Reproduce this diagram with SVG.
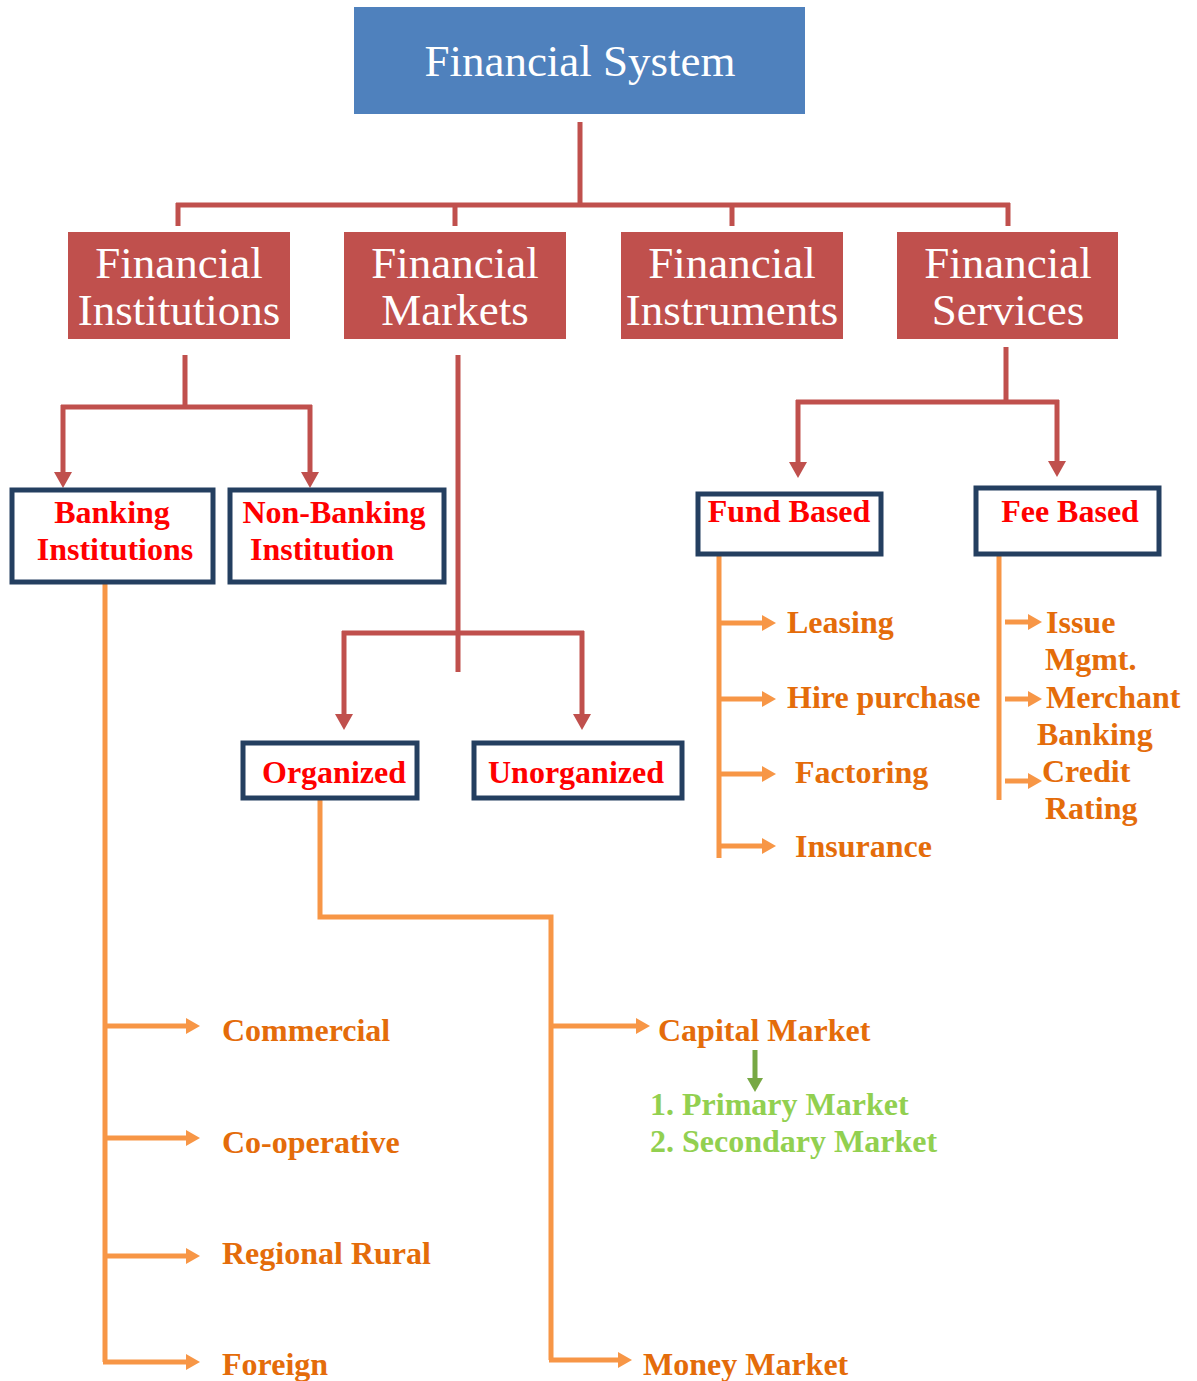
<svg xmlns="http://www.w3.org/2000/svg" width="1197" height="1381" viewBox="0 0 1197 1381">
<defs>
<style>
.top{fill:#4F81BD}
.lvl2{fill:#C0504D}
.wt{fill:#fff;font-family:"Liberation Serif",serif;font-size:45px;text-anchor:middle}
.box{fill:#fff;stroke:#243F60;stroke-width:5}
.rt{fill:#FF0000;font-family:"Liberation Serif",serif;font-weight:bold;font-size:32px;text-anchor:middle}
.ot{fill:#E46C0A;font-family:"Liberation Serif",serif;font-weight:bold;font-size:32px}
.gt{fill:#92D050;font-family:"Liberation Serif",serif;font-weight:bold;font-size:32px}
.rl{fill:none;stroke:#C0504D;stroke-width:5}
.ol{fill:none;stroke:#F79646;stroke-width:5}
.gl{fill:none;stroke:#77A844;stroke-width:5}
</style>
<marker id="ra" markerUnits="userSpaceOnUse" markerWidth="16" markerHeight="18" refX="0" refY="9" orient="auto" viewBox="0 0 16 18"><path d="M0,0 L16,9 L0,18 z" fill="#C0504D"/></marker>
<marker id="oa" markerUnits="userSpaceOnUse" markerWidth="14" markerHeight="16" refX="0" refY="8" orient="auto" viewBox="0 0 14 16"><path d="M0,0 L14,8 L0,16 z" fill="#F79646"/></marker>
<marker id="ga" markerUnits="userSpaceOnUse" markerWidth="14" markerHeight="16" refX="0" refY="8" orient="auto" viewBox="0 0 14 16"><path d="M0,0 L14,8 L0,16 z" fill="#77A844"/></marker>
</defs>
<rect width="1197" height="1381" fill="#fff"/>
<g id="connectors">
<path class="rl" d="M580,122 V205 M176,205 H1010 M178,203 V226 M455,203 V226 M732,203 V226 M1008,203 V226"/>
<path class="rl" d="M185,355 V407 M61,407 H312"/>
<path class="rl" d="M63,405 V472" marker-end="url(#ra)"/>
<path class="rl" d="M310,405 V472" marker-end="url(#ra)"/>
<path class="rl" d="M458,355 V672 M342,633 H584"/>
<path class="rl" d="M344,631 V714" marker-end="url(#ra)"/>
<path class="rl" d="M582,631 V714" marker-end="url(#ra)"/>
<path class="rl" d="M1006,347 V402 M796,402 H1059"/>
<path class="rl" d="M798,400 V462" marker-end="url(#ra)"/>
<path class="rl" d="M1057,400 V461" marker-end="url(#ra)"/>
<path class="ol" d="M105,566 V1362"/>
<path class="ol" d="M105,1026 H186" marker-end="url(#oa)"/>
<path class="ol" d="M105,1138 H186" marker-end="url(#oa)"/>
<path class="ol" d="M105,1256 H186" marker-end="url(#oa)"/>
<path class="ol" d="M103,1362 H186" marker-end="url(#oa)"/>
<path class="ol" d="M320,800 V917 H551 V1360"/>
<path class="ol" d="M551,1026 H636" marker-end="url(#oa)"/>
<path class="ol" d="M549,1360 H618" marker-end="url(#oa)"/>
<path class="gl" d="M755,1050 V1078" marker-end="url(#ga)"/>
<path class="ol" d="M719,556 V858"/>
<path class="ol" d="M719,623 H762" marker-end="url(#oa)"/>
<path class="ol" d="M719,699 H762" marker-end="url(#oa)"/>
<path class="ol" d="M719,774 H762" marker-end="url(#oa)"/>
<path class="ol" d="M719,846 H762" marker-end="url(#oa)"/>
<path class="ol" d="M999,556 V800"/>
<path class="ol" d="M1005,622 H1028" marker-end="url(#oa)"/>
<path class="ol" d="M1005,699 H1028" marker-end="url(#oa)"/>
<path class="ol" d="M1005,781 H1028" marker-end="url(#oa)"/>
</g>
<g id="financial-system"><rect class="top" x="354" y="7" width="451" height="107"/><text class="wt" x="580" y="76">Financial System</text></g>
<g id="financial-institutions"><rect class="lvl2" x="68" y="232" width="222" height="107"/><text class="wt" x="179" y="278">Financial</text><text class="wt" x="179" y="325">Institutions</text></g>
<g id="financial-markets"><rect class="lvl2" x="344" y="232" width="222" height="107"/><text class="wt" x="455" y="278">Financial</text><text class="wt" x="455" y="325">Markets</text></g>
<g id="financial-instruments"><rect class="lvl2" x="621" y="232" width="222" height="107"/><text class="wt" x="732" y="278">Financial</text><text class="wt" x="732" y="325">Instruments</text></g>
<g id="financial-services"><rect class="lvl2" x="897" y="232" width="221" height="107"/><text class="wt" x="1008" y="278">Financial</text><text class="wt" x="1008" y="325">Services</text></g>
<g id="banking"><rect class="box" x="12" y="490" width="201" height="92"/><text class="rt" x="112" y="523">Banking</text><text class="rt" x="115" y="560">Institutions</text></g>
<g id="non-banking"><rect class="box" x="230" y="490" width="214" height="92"/><text class="rt" x="334" y="523">Non-Banking</text><text class="rt" x="322" y="560">Institution</text></g>
<g id="organized"><rect class="box" x="243" y="743" width="174" height="55"/><text class="rt" x="334" y="783">Organized</text></g>
<g id="unorganized"><rect class="box" x="474" y="743" width="208" height="55"/><text class="rt" x="576" y="783">Unorganized</text></g>
<g id="fund-based"><rect class="box" x="698" y="494" width="183" height="60"/><text class="rt" x="789" y="522">Fund Based</text></g>
<g id="fee-based"><rect class="box" x="976" y="488" width="183" height="66"/><text class="rt" x="1070" y="522">Fee Based</text></g>
<g id="banking-types">
<text class="ot" x="222" y="1041">Commercial</text>
<text class="ot" x="222" y="1153">Co-operative</text>
<text class="ot" x="222" y="1264">Regional Rural</text>
<text class="ot" x="222" y="1375">Foreign</text>
</g>
<g id="capital-market"><text class="ot" x="658" y="1041">Capital Market</text></g>
<g id="capital-subtypes"><text class="gt" x="650" y="1115">1. Primary Market</text><text class="gt" x="650" y="1152">2. Secondary Market</text></g>
<g id="money-market"><text class="ot" x="643" y="1375">Money Market</text></g>
<g id="fund-items">
<text class="ot" x="787" y="633">Leasing</text>
<text class="ot" x="787" y="708">Hire purchase</text>
<text class="ot" x="795" y="783">Factoring</text>
<text class="ot" x="795" y="857">Insurance</text>
</g>
<g id="fee-items">
<text class="ot" x="1046" y="633">Issue</text>
<text class="ot" x="1045" y="670">Mgmt.</text>
<text class="ot" x="1046" y="708">Merchant</text>
<text class="ot" x="1037" y="745">Banking</text>
<text class="ot" x="1042" y="782">Credit</text>
<text class="ot" x="1045" y="819">Rating</text>
</g>
</svg>
